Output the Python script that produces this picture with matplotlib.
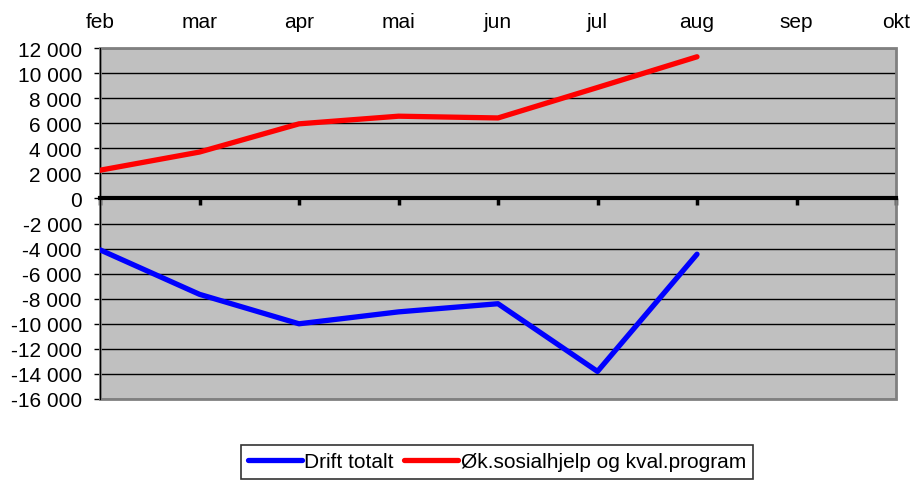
import matplotlib
matplotlib.use('Agg')
import matplotlib.pyplot as plt
from matplotlib.patches import Rectangle
from matplotlib.ticker import FuncFormatter

plt.rcParams['font.family'] = ['Liberation Sans', 'DejaVu Sans']

months = ['feb', 'mar', 'apr', 'mai', 'jun', 'jul', 'aug', 'sep', 'okt']
drift_totalt = [-4100, -7650, -10000, -9050, -8400, -13800, -4450]
ok_sosialhjelp = [2250, 3700, 5950, 6560, 6420, 8850, 11300]
y_ticks = list(range(-16000, 12001, 2000))

fig = plt.figure(figsize=(9.16, 4.85), dpi=100)
ax = fig.add_axes([100/916, 85/485, 796/916, 351/485])
ax.set_facecolor('#C0C0C0')

x = list(range(len(months)))
ax.plot(x[:len(drift_totalt)], drift_totalt, color='#0000FF', lw=3.8,
        solid_capstyle='round', label='Drift totalt', zorder=4)
ax.plot(x[:len(ok_sosialhjelp)], ok_sosialhjelp, color='#FF0000', lw=3.8,
        solid_capstyle='round', label='Øk.sosialhjelp og kval.program', zorder=4)

ax.set_xlim(0, len(months) - 1)
ax.set_ylim(-16000, 12000)
ax.set_yticks(y_ticks)
ax.yaxis.set_major_formatter(FuncFormatter(lambda v, p: f'{v:,.0f}'.replace(',', ' ')))
ax.grid(axis='y', color='black', lw=1)
ax.set_axisbelow(True)

# x-aksen ligger på 0, månedene står over diagrammet
ax.set_xticks(x)
ax.set_xticklabels(months)
ax.spines['bottom'].set_position(('data', 0))
ax.spines['bottom'].set_linewidth(3)
ax.spines['bottom'].set_zorder(3)
ax.tick_params(axis='x', bottom=True, top=False, labelbottom=False, labeltop=True,
               direction='out', length=5, width=2.5, pad=7, labelsize=15)
ax.tick_params(axis='y', direction='out', length=4, width=1, labelsize=15, pad=9)
ax.spines['left'].set_color('black')
for s in ['top', 'right']:
    ax.spines[s].set_visible(False)
ax.add_patch(Rectangle((0, 0), 1, 1, transform=ax.transAxes, fill=False,
                       edgecolor='#808080', lw=2, zorder=2, clip_on=False))

leg = fig.legend(loc='center', bbox_to_anchor=(497/916, 1 - 463/485), ncol=2,
                 fontsize=15, frameon=True, fancybox=False, edgecolor='black',
                 handlelength=2.6, handletextpad=0.1, columnspacing=0.5,
                 borderpad=0.35, borderaxespad=0)
leg.get_frame().set_linewidth(1.2)

fig.savefig('out.png', dpi=100)
